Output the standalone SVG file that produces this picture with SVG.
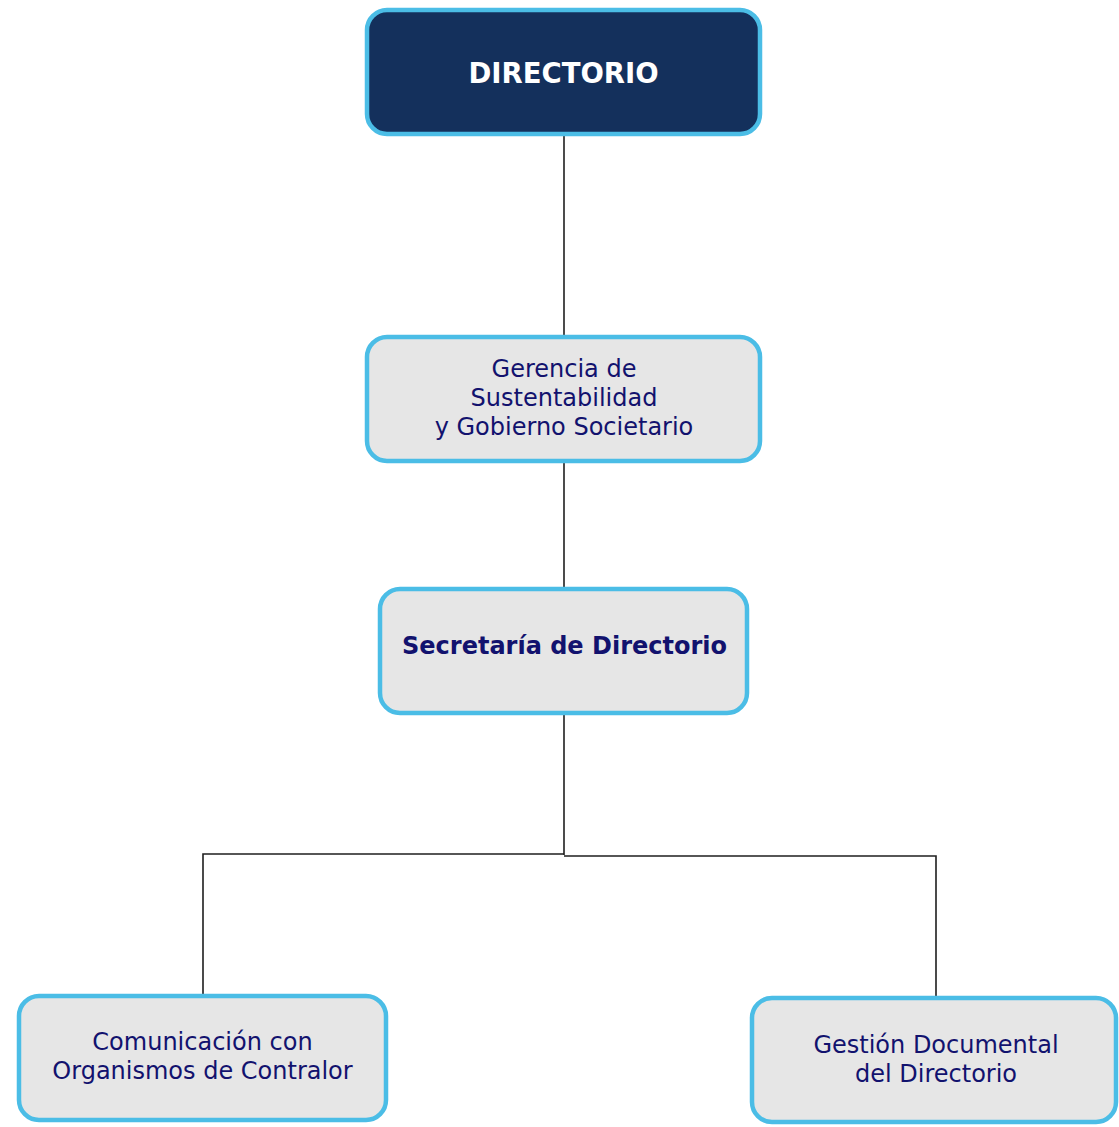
<svg xmlns="http://www.w3.org/2000/svg" width="1119" height="1127" viewBox="0 0 1119 1127">
<style>
.box{fill:#e6e6e6;stroke:#4bbde6;stroke-width:4.5}
.top{fill:#14305c;stroke:#4bbde6;stroke-width:4.5}
.t{font-family:"DejaVu Sans","Verdana",sans-serif;font-size:24px;fill:#12126e;text-anchor:middle}
.b{font-weight:bold}
.w{fill:#ffffff;font-size:27.5px}
.c{fill:none;stroke:#1f1f1f;stroke-width:1.6}
</style>
<rect width="1119" height="1127" fill="#ffffff"/>
<g id="connectors">
<path class="c" d="M564 135V336"/>
<path class="c" d="M564 462V588"/>
<path class="c" d="M564 714V855"/>
<path class="c" d="M203 995V854H564"/>
<path class="c" d="M564 856H936V997"/>
</g>
<g id="directorio">
<rect class="top" x="367" y="10" width="393" height="124" rx="20"/>
<text class="t b w" x="563.5" y="83">DIRECTORIO</text>
</g>
<g id="gerencia">
<rect class="box" x="367" y="337" width="393" height="124" rx="20"/>
<text class="t" x="564" y="377">Gerencia de</text>
<text class="t" x="564" y="406">Sustentabilidad</text>
<text class="t" x="564" y="435">y Gobierno Societario</text>
</g>
<g id="secretaria">
<rect class="box" x="380" y="589" width="367" height="124" rx="20"/>
<text class="t b" x="564.5" y="654">Secretaría de Directorio</text>
</g>
<g id="comunicacion">
<rect class="box" x="19" y="996" width="367" height="124" rx="20"/>
<text class="t" x="202.5" y="1050">Comunicación con</text>
<text class="t" x="202.5" y="1079">Organismos de Contralor</text>
</g>
<g id="gestion">
<rect class="box" x="752" y="998" width="364" height="124" rx="20"/>
<text class="t" x="936" y="1053">Gestión Documental</text>
<text class="t" x="936" y="1082">del Directorio</text>
</g>
</svg>
